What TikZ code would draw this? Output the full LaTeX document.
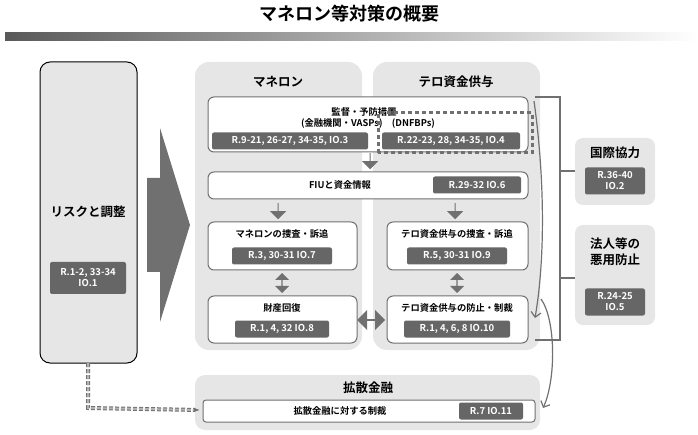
\documentclass[tikz,border=0pt]{standalone}
\usepackage{fontspec}
\setmainfont{Noto Sans CJK JP}[BoldFont={* Bold}]
\usetikzlibrary{arrows.meta,shapes.arrows,positioning}
\definecolor{panelgray}{HTML}{E6E6E6}
\definecolor{taggray}{HTML}{666666}
\definecolor{linegray}{HTML}{707070}
\tikzset{
  panel/.style={fill=panelgray, rounded corners=12pt, draw=none},
  box/.style={draw=linegray, line width=1pt, fill=white, rounded corners=6pt},
  tag/.style={fill=taggray, text=white, font=\bfseries\fontsize{9.5}{11}\selectfont, rounded corners=2pt, inner sep=0pt, align=center},
  lbl/.style={font=\bfseries\fontsize{9.3}{11.5}\selectfont, align=center},
  ttl/.style={font=\bfseries\fontsize{12.5}{16}\selectfont, align=center},
  blk/.style={single arrow, fill=linegray, draw=none, minimum height=16pt, minimum width=16pt, single arrow head extend=3pt, inner sep=0pt},
  dblk/.style={double arrow, fill=linegray, draw=none, minimum height=20pt, minimum width=14pt, double arrow head extend=2pt, inner sep=0pt},
  conn/.style={draw=linegray, line width=1.2pt}
}
\begin{document}
\begin{tikzpicture}[x=1pt, y=-1pt]
\useasboundingbox (0,0) rectangle (698,435);
% title
\node[font=\bfseries\fontsize{18}{20}\selectfont] (title) at (349,14) {マネロン等対策の概要};
\shade[left color=black!65, right color=white] (5,33) rectangle (698,41);
% risk
\draw[fill=panelgray, draw=black, line width=1pt, rounded corners=10pt] (40,62) rectangle (137,363);
\node[ttl] (risk) at (88,212) {リスクと調整};
\node[tag, minimum width=76pt, minimum height=32pt] (riskt) at (88,278) {R.1-2, 33-34\\IO.1};
\fill[linegray] (147,178) -- (160,178) -- (160,128) -- (190,225) -- (160,322) -- (160,272) -- (147,272) -- cycle;
% panels
\fill[panelgray, rounded corners=14pt] (195,62) rectangle (362,350);
\fill[panelgray, rounded corners=14pt] (373,62) rectangle (540,350);
\node[ttl] (ml) at (278,82) {マネロン};
\node[ttl] (tf) at (456,82) {テロ資金供与};
% supervision
\draw[box] (208,97) rectangle (528,152);
\node[lbl, align=center] (sup) at (368,118) {\hspace*{-8pt}監督・予防措置\\(金融機関・VASPs)\quad(DNFBPs)};
\node[tag, minimum width=156pt, minimum height=17pt] (supl) at (290,141) {R.9-21, 26-27, 34-35, IO.3};
\node[tag, minimum width=138pt, minimum height=17pt] (supr) at (451,141) {R.22-23, 28, 34-35, IO.4};
\draw[linegray, line width=3pt, dash pattern=on 4pt off 3pt] (378,153) -- (378,113) -- (532,113) -- (532,153) -- cycle;
\node[blk, shape border rotate=270] (a1) at (370,161) {};
% FIU
\draw[box] (208,172) rectangle (528,199);
\node[lbl] (fiu) at (340,185) {FIUと資金情報};
\node[tag, minimum width=88pt, minimum height=17pt] (fiut) at (477,185) {R.29-32 IO.6};
\node[blk, shape border rotate=270] (a2) at (278,211) {};
\node[blk, shape border rotate=270] (a3) at (455,211) {};
% investigation
\draw[box] (208,222) rectangle (357,270);
\node[lbl] (mli) at (282,234) {マネロンの捜査・訴追};
\node[tag, minimum width=100pt, minimum height=17pt] (mlit) at (282,256) {R.3, 30-31 IO.7};
\draw[box] (387,222) rectangle (528,270);
\node[lbl] (tfi) at (457,234) {テロ資金供与の捜査・訴追};
\node[tag, minimum width=100pt, minimum height=17pt] (tfit) at (457,256) {R.5, 30-31 IO.9};
\node[dblk, shape border rotate=90] (d1) at (282,283) {};
\node[dblk, shape border rotate=90] (d2) at (457,283) {};
% recovery
\draw[box] (208,296) rectangle (357,343);
\node[lbl] (rec) at (282,308) {財産回復};
\node[tag, minimum width=94pt, minimum height=17pt] (rect) at (282,329) {R.1, 4, 32 IO.8};
\draw[box] (387,296) rectangle (528,343);
\node[lbl] (tfp) at (457,308) {テロ資金供与の防止・制裁};
\node[tag, minimum width=106pt, minimum height=17pt] (tfpt) at (457,329) {R.1, 4, 6, 8 IO.10};
\node[double arrow, fill=linegray, minimum height=28pt, minimum width=20pt, double arrow head extend=2pt, inner sep=0pt] (d3) at (371,320) {};
% proliferation
\fill[panelgray, rounded corners=10pt] (195,375) rectangle (540,430);
\node[ttl] (pf) at (368,388) {拡散金融};
\draw[box, rounded corners=3pt] (203,400) rectangle (535,422);
\node[lbl] (pfi) at (340,411) {拡散金融に対する制裁};
\node[tag, minimum width=64pt, minimum height=17pt] (pfit) at (491,411) {R.7 IO.11};
% right panels
\fill[panelgray, rounded corners=8pt] (575,138) rectangle (655,205);
\node[ttl] (ic) at (615,153) {国際協力};
\node[tag, minimum width=60pt, minimum height=27pt] (ict) at (615,181) {R.36-40\\IO.2};
\fill[panelgray, rounded corners=8pt] (575,225) rectangle (655,325);
\node[ttl] (lp) at (615,252) {法人等の\\悪用防止};
\node[tag, minimum width=60pt, minimum height=27pt] (lpt) at (615,302) {R.24-25\\IO.5};
% connectors
\draw[conn] (535,97) -- (560,97) -- (560,340) -- (535,340);
\draw[conn] (560,171) -- (575,171);
\draw[conn] (560,278) -- (575,278);
\draw[conn, -{Straight Barb[length=5pt]}] (534,101) .. controls (545,180) and (545,260) .. (535,318);
\draw[conn, -{Straight Barb[length=5pt]}] (541,299) .. controls (556,320) and (556,380) .. (543,408);
\draw[linegray, double=black!30, line width=1pt, double distance=2pt, dash pattern=on 4pt off 2pt, -{Latex[length=6pt]}] (88,363) -- (88,408) -- (200,410);
\end{tikzpicture}
\end{document}
